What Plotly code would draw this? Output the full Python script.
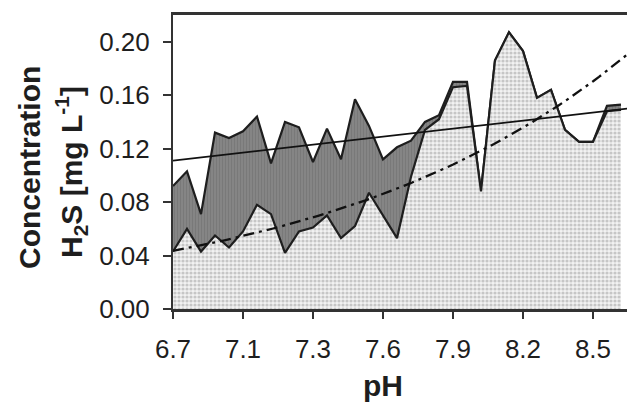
import numpy as np
import plotly.graph_objects as go

# H2S concentration per sample, samples ordered by pH
upper_h2s = [0.092, 0.103, 0.071, 0.132, 0.128, 0.133, 0.144, 0.109, 0.140, 0.136,
             0.110, 0.135, 0.112, 0.157, 0.137, 0.112, 0.121, 0.126, 0.140, 0.145,
             0.170, 0.170, 0.088, 0.186, 0.207, 0.193, 0.158, 0.164, 0.134, 0.125,
             0.125, 0.152, 0.153]
lower_h2s = [0.043, 0.060, 0.043, 0.055, 0.046, 0.058, 0.078, 0.071, 0.042, 0.058,
             0.061, 0.070, 0.053, 0.062, 0.087, 0.070, 0.053, 0.099, 0.134, 0.142,
             0.166, 0.167, 0.088, 0.186, 0.207, 0.193, 0.158, 0.164, 0.134, 0.125,
             0.125, 0.148, 0.149]

# pH shown under every fifth sample
ph_labels = ["6.7", "7.1", "7.3", "7.6", "7.9", "8.2", "8.5"]

# trend lines: linear (intercept, slope) and exponential (a, b) in sample index
linear_trend = [0.111, 0.0012]
exp_trend = [0.0435, 0.0455]

y_ticks = [0.00, 0.04, 0.08, 0.12, 0.16, 0.20]

n = len(upper_h2s)
idx = np.arange(n)
x_max = 32.43
xt = np.linspace(0, x_max + 0.5, 80)

fig = go.Figure()

fig.add_trace(go.Scatter(
    x=idx, y=upper_h2s, mode="lines", fill="tozeroy",
    line=dict(color="#1e1e1e", width=2.2),
    fillcolor="#808080",
    fillpattern=dict(shape="|", bgcolor="#858585", fgcolor="#6a6a6a",
                     size=3, solidity=0.3),
    showlegend=False,
))
fig.add_trace(go.Scatter(
    x=idx, y=lower_h2s, mode="lines", fill="tozeroy",
    line=dict(color="#1e1e1e", width=2.2),
    fillpattern=dict(shape=".", bgcolor="#f2f2f2", fgcolor="#999999",
                     size=4, solidity=0.5),
    showlegend=False,
))
fig.add_trace(go.Scatter(
    x=xt, y=linear_trend[0] + linear_trend[1] * xt, mode="lines",
    line=dict(color="#111111", width=1.7), showlegend=False,
))
fig.add_trace(go.Scatter(
    x=xt, y=exp_trend[0] * np.exp(exp_trend[1] * xt), mode="lines",
    line=dict(color="#111111", width=2.3, dash="11px,5px,3px,5px"),
    showlegend=False,
))

tick_font = dict(family="Liberation Sans, Arial, sans-serif", size=26, color="#1e1e1e")

fig.update_xaxes(
    range=[0, x_max],
    tickmode="array",
    tickvals=list(range(0, n, 5))[:len(ph_labels)],
    ticktext=ph_labels,
    ticks="outside", ticklen=7, tickwidth=2, tickcolor="#333333",
    ticklabelstandoff=8,
    showline=True, linewidth=2.5, linecolor="#333333", mirror=True,
    showgrid=False, zeroline=False,
    tickfont=tick_font,
)
fig.update_yaxes(
    range=[0, 0.22],
    tickmode="array",
    tickvals=y_ticks,
    ticktext=[f"{v:.2f}" for v in y_ticks],
    ticks="outside", ticklen=8, tickwidth=2, tickcolor="#333333",
    ticklabelstandoff=8,
    showline=True, linewidth=2, linecolor="#333333",
    showgrid=False, zeroline=False,
    tickfont=tick_font,
)

title_font = dict(family="Liberation Sans, Arial, sans-serif", size=30, color="#1e1e1e")
L, T, W, H = 173, 15, 454, 294

def px_x(p):
    return (p - L) / W

def px_y(p):
    return (T + H - p) / H

fig.add_annotation(
    text="<b>Concentration</b>", xref="paper", yref="paper",
    x=px_x(29), y=px_y(168), xanchor="center", yanchor="middle",
    textangle=-90, showarrow=False, font=title_font,
)
fig.add_annotation(
    text="<b>H<sub>2</sub>S [mg L<sup>-1</sup>]</b>", xref="paper", yref="paper",
    x=px_x(71), y=px_y(172), xanchor="center", yanchor="middle",
    textangle=-90, showarrow=False, font=title_font,
)
fig.add_annotation(
    text="<b>pH</b>", xref="paper", yref="paper",
    x=px_x(383), y=px_y(385), xanchor="center", yanchor="middle",
    showarrow=False, font=title_font,
)

fig.update_layout(
    width=627, height=403,
    margin=dict(l=L, r=0, t=T, b=403 - T - H),
    paper_bgcolor="white", plot_bgcolor="white",
)

fig.write_html("out.html")
